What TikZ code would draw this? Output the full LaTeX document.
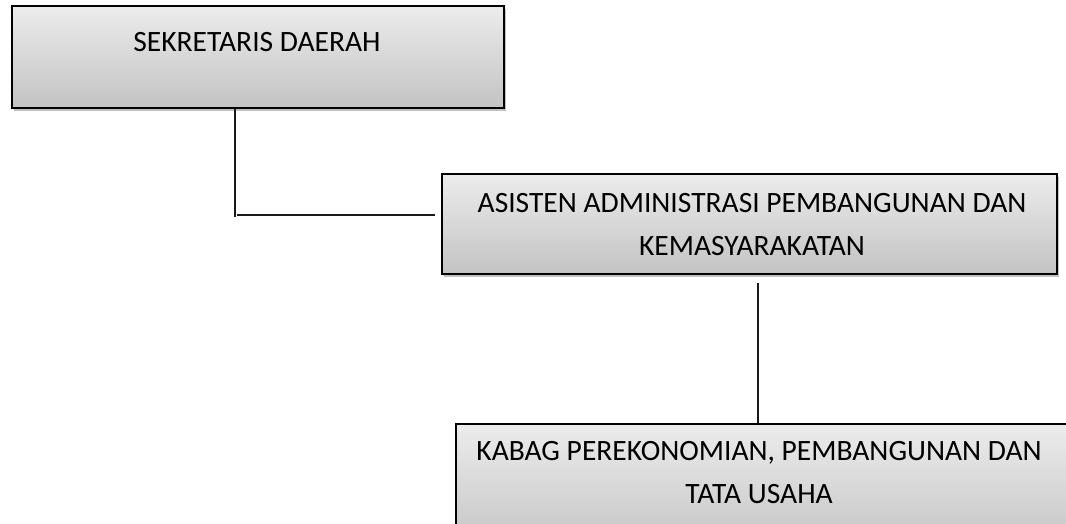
\documentclass[tikz,border=0pt]{standalone}
\usepackage{fontspec}
\setmainfont{Carlito}
\usetikzlibrary{shadows}
\definecolor{boxtop}{HTML}{ECECEC}
\definecolor{boxbot}{HTML}{C3C3C3}
\tikzset{
  orgbox/.style={draw=black, line width=1.6pt, top color=boxtop, bottom color=boxbot,
    anchor=north west, inner sep=0pt,
    drop shadow={shadow xshift=2.5pt, shadow yshift=-3pt, opacity=0.35, fill=black!70}},
  boxtext/.style={font=\fontsize{29.5}{43}\selectfont, align=center, inner sep=0pt, anchor=center},
  link/.style={line width=1.8pt, draw=black!90}
}
\begin{document}
\begin{tikzpicture}[x=1pt,y=-1pt]
\useasboundingbox (0,0) rectangle (1066,523);
\clip (0,0) rectangle (1066,523);
% boxes
\node[orgbox, minimum width=492pt, minimum height=102pt] (b1) at (11,5) {};
\node[orgbox, minimum width=615pt, minimum height=100pt] (b2) at (441,173) {};
\node[orgbox, minimum width=630pt, minimum height=130pt] (b3) at (455,423) {};
% texts
\node[boxtext] (t1) at (257,42) {SEKRETARIS DAERAH};
\node[boxtext] (t2) at (752,224.5) {ASISTEN ADMINISTRASI PEMBANGUNAN DAN\\KEMASYARAKATAN};
\node[boxtext] (t3) at (759,472.5) {KABAG PEREKONOMIAN, PEMBANGUNAN DAN\\TATA USAHA};
% connectors
\coordinate (elbow) at (235,217);
\coordinate (hstart) at (237,215);
\coordinate (hend) at (435,215);
\coordinate (vtop) at (758,283);
\draw[link] (b1.south -| elbow) -- (elbow);
\draw[link] (hstart) -- (hend);
\draw[link] (vtop) -- (b3.north -| vtop);
\end{tikzpicture}
\end{document}
